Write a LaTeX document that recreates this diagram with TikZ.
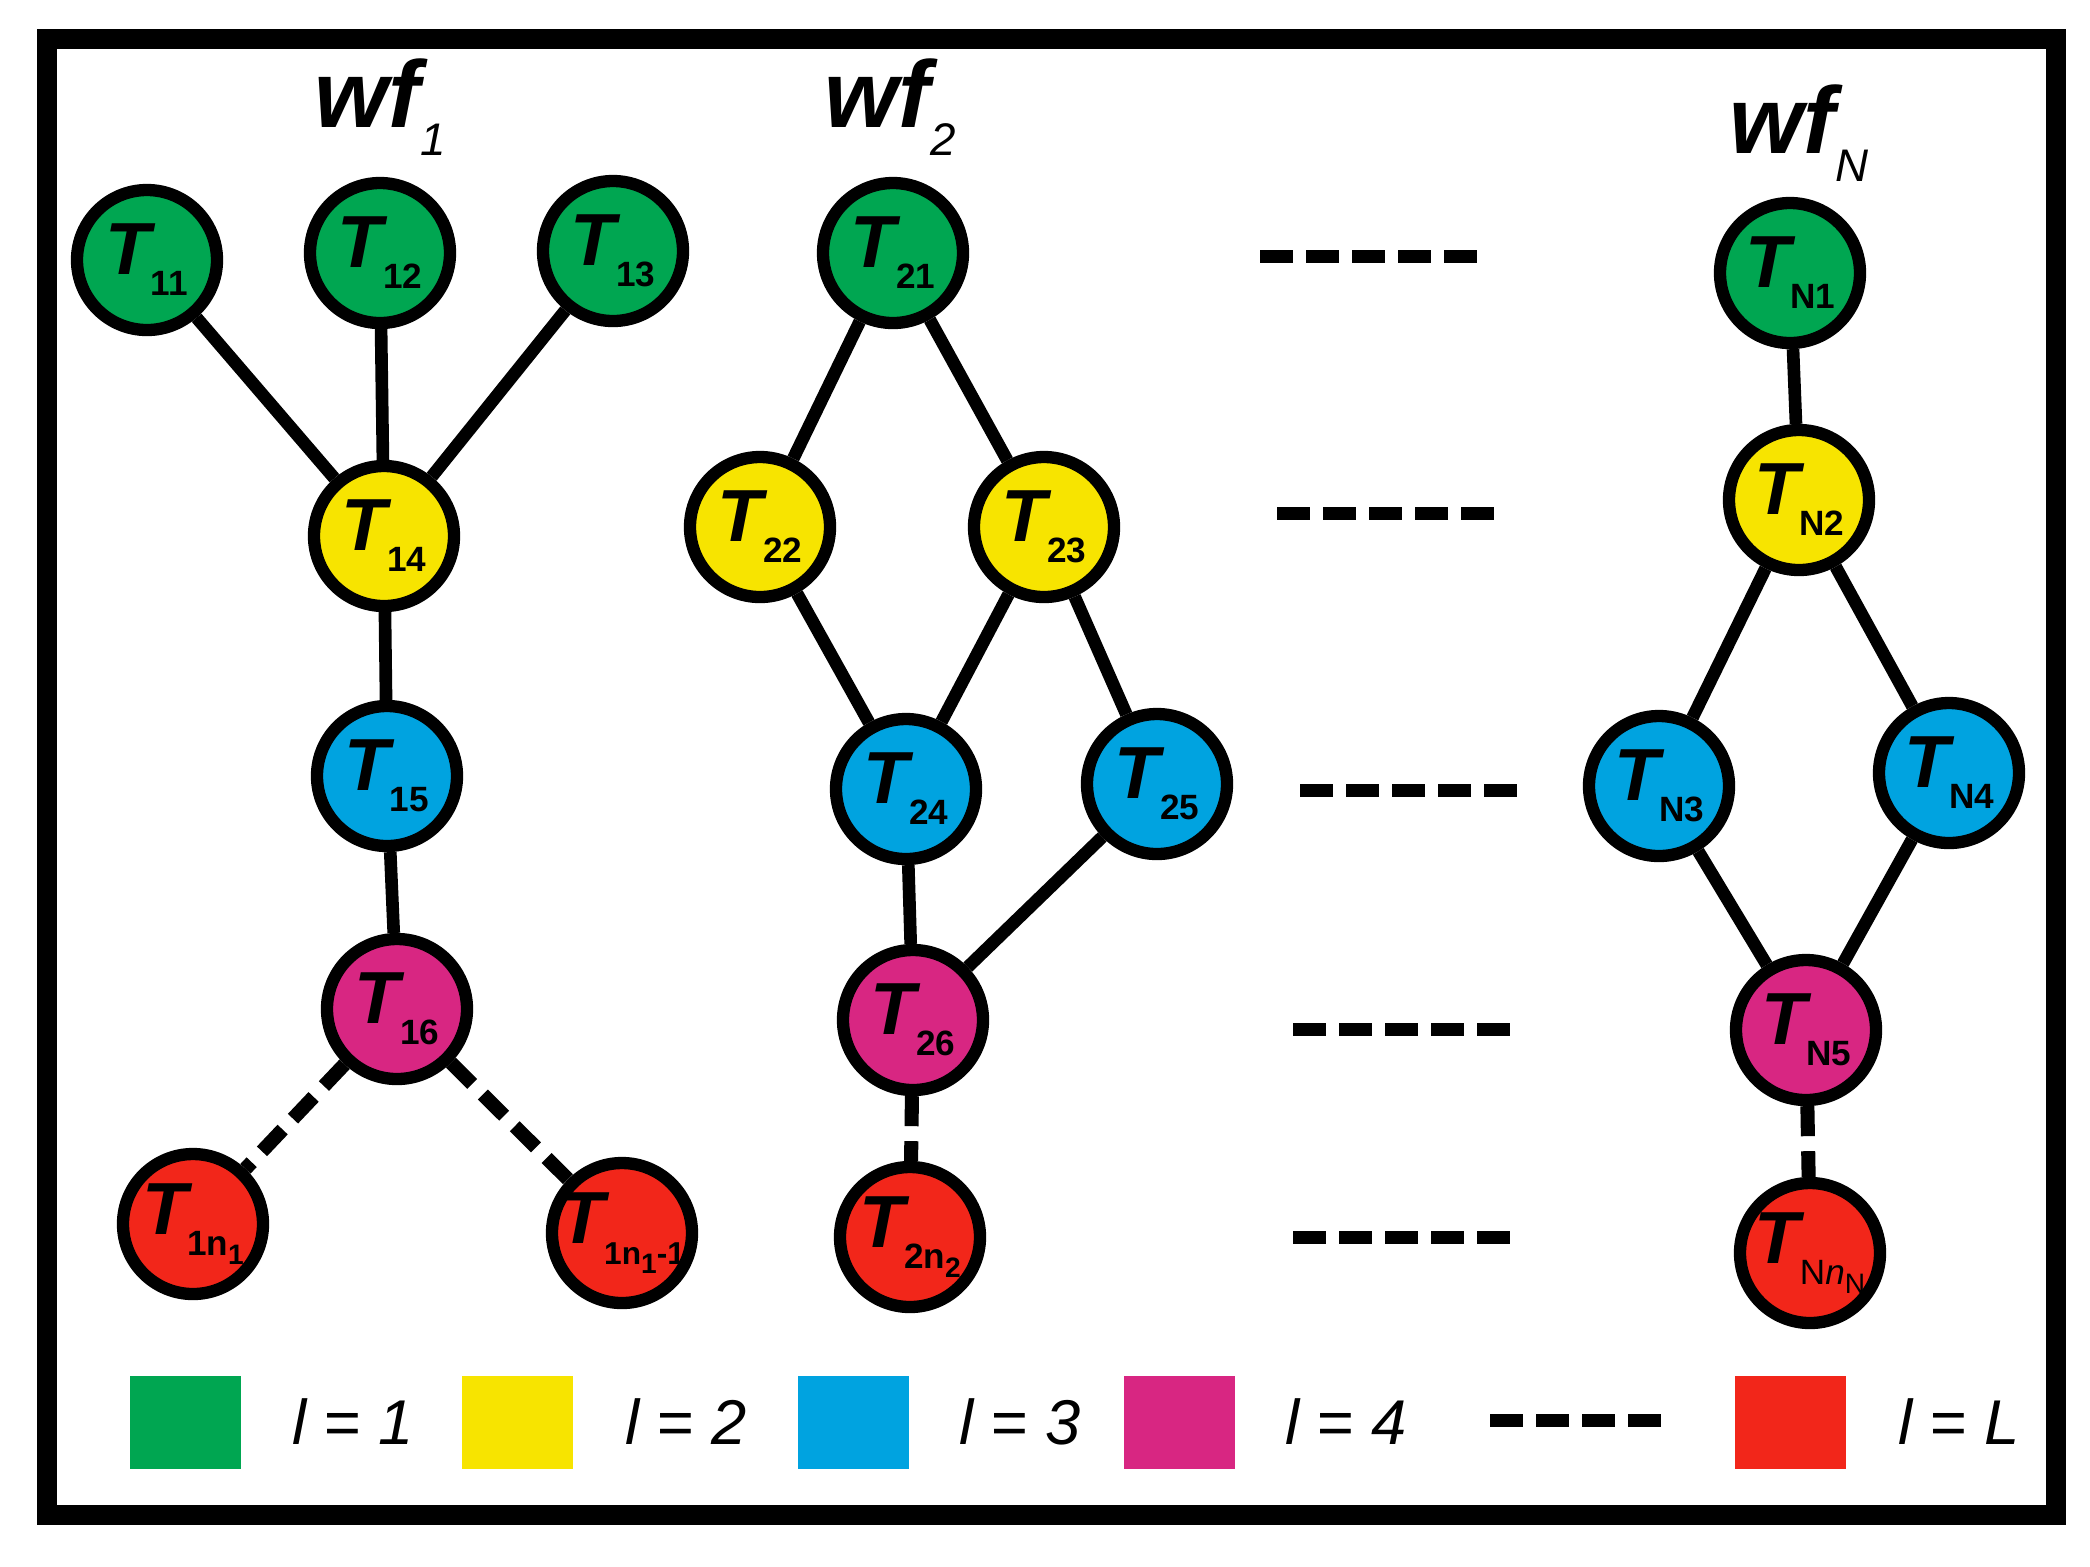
\documentclass[tikz,border=0pt]{standalone}
\usepackage{fontspec}
\setmainfont{Liberation Sans}
\usepackage{xcolor}
\definecolor{lvlone}{RGB}{0,166,81}
\definecolor{lvltwo}{RGB}{247,228,0}
\definecolor{lvlthree}{RGB}{0,163,224}
\definecolor{lvlfour}{RGB}{216,38,130}
\definecolor{lvlL}{RGB}{242,38,26}
\newcommand{\tsk}[1]{{\fontsize{21}{21}\selectfont\bfseries\itshape T}\raisebox{-6pt}{\fontsize{10}{10}\selectfont\bfseries #1}}
\newcommand{\lo}[1]{\raisebox{-2.5pt}{\fontsize{8}{8}\selectfont #1}}
\tikzset{every picture/.style={y=-1cm},
  task/.style={circle, draw=black, line width=3.5pt, minimum size=1.40cm, inner sep=0pt},
  edge/.style={line width=3.6pt},
  dashedge/.style={line width=4pt, dash pattern=on 0.3cm off 0.15cm},
  dots/.style={line width=3.7pt, dash pattern=on 0.33cm off 0.13cm},
  wftitle/.style={font=\fontsize{27}{27}\selectfont\bfseries\itshape},
  legbox/.style={minimum width=1.11cm, minimum height=0.93cm, inner sep=0pt},
  legtext/.style={font=\fontsize{18}{18}\selectfont\itshape}}

\begin{document}
\begin{tikzpicture}
        \useasboundingbox (0,0) rectangle (20.90,15.66);
        \draw[line width=5.8pt] (0.47,0.39) rectangle (20.56,15.15);

        % titles
        \node[wftitle] (wf1) at (3.80,1.07) {wf\raisebox{-8pt}{\fontsize{13}{13}\selectfont\mdseries 1}};
        \node[wftitle] (wf2) at (8.90,1.07) {wf\raisebox{-8pt}{\fontsize{13}{13}\selectfont\mdseries 2}};
        \node[wftitle] (wfN) at (17.99,1.33) {wf\raisebox{-8pt}{\fontsize{13}{13}\selectfont\mdseries N}};

        % wf_1
        \node[task, fill=lvlone] (t11) at (1.47,2.60) {\tsk{11}};
        \node[task, fill=lvlone] (t12) at (3.80,2.53) {\tsk{12}};
        \node[task, fill=lvlone] (t13) at (6.13,2.51) {\tsk{13}};
        \node[task, fill=lvltwo] (t14) at (3.84,5.36) {\tsk{14}};
        \node[task, fill=lvlthree] (t15) at (3.87,7.76) {\tsk{15}};
        \node[task, fill=lvlfour] (t16) at (3.97,10.09) {\tsk{16}};
        \node[task, fill=lvlL] (t1n) at (1.93,12.24) {\tsk{1n\lo{1}}};
        \node[task, fill=lvlL] (t1m) at (6.22,12.33) {\makebox[1.1cm]{\tsk{\fontsize{9}{9}\selectfont 1n\lo{1}-1}}};

        % wf_2
        \node[task, fill=lvlone] (t21) at (8.93,2.53) {\tsk{21}};
        \node[task, fill=lvltwo] (t22) at (7.60,5.27) {\tsk{22}};
        \node[task, fill=lvltwo] (t23) at (10.44,5.27) {\tsk{23}};
        \node[task, fill=lvlthree] (t24) at (9.06,7.89) {\tsk{24}};
        \node[task, fill=lvlthree] (t25) at (11.57,7.84) {\tsk{25}};
        \node[task, fill=lvlfour] (t26) at (9.13,10.20) {\tsk{26}};
        \node[task, fill=lvlL] (t2n) at (9.10,12.37) {\tsk{2n\lo{2}}};

        % wf_N
        \node[task, fill=lvlone] (tN1) at (17.90,2.73) {\tsk{N1}};
        \node[task, fill=lvltwo] (tN2) at (17.99,5.00) {\tsk{N2}};
        \node[task, fill=lvlthree] (tN3) at (16.59,7.86) {\tsk{N3}};
        \node[task, fill=lvlthree] (tN4) at (19.49,7.73) {\tsk{N4}};
        \node[task, fill=lvlfour] (tN5) at (18.06,10.30) {\tsk{N5}};
        \node[task, fill=lvlL] (tNn) at (18.10,12.53) {\tsk{\mdseries N\textit{n}\lo{N}}};

        \foreach \from/\to in {
          t11/t14, t12/t14, t13/t14, t14/t15, t15/t16,
          t21/t22, t21/t23, t22/t24, t23/t24, t23/t25, t24/t26, t25/t26,
          tN1/tN2, tN2/tN3, tN2/tN4, tN3/tN5, tN4/tN5}
        \draw[edge] (\from) -- (\to);

        \foreach \from/\to in {t16/t1n, t16/t1m, t26/t2n, tN5/tNn}
        \draw[dashedge] (\from) -- (\to);

        % rows of dots between the workflows
        \draw[dots] (12.60,2.56) -- ++(2.17,0);
        \draw[dots] (12.77,5.13) -- ++(2.17,0);
        \draw[dots] (13.00,7.90) -- ++(2.17,0);
        \draw[dots] (12.93,10.29) -- ++(2.17,0);
        \draw[dots] (12.93,12.37) -- ++(2.17,0);

        % legend
        \node[legbox, fill=lvlone] (k1) at (1.85,14.22) {};
        \node[legtext] (l1) at (3.53,14.22) {l = 1};
        \node[legbox, fill=lvltwo] (k2) at (5.17,14.22) {};
        \node[legtext] (l2) at (6.86,14.22) {l = 2};
        \node[legbox, fill=lvlthree] (k3) at (8.53,14.22) {};
        \node[legtext] (l3) at (10.20,14.22) {l = 3};
        \node[legbox, fill=lvlfour] (k4) at (11.79,14.22) {};
        \node[legtext] (l4) at (13.46,14.22) {l = 4};
        \draw[dots] (14.90,14.20) -- ++(1.71,0);
        \node[legbox, fill=lvlL] (kL) at (17.90,14.22) {};
        \node[legtext] (lL) at (19.59,14.22) {l = L};
\end{tikzpicture}
\end{document}
